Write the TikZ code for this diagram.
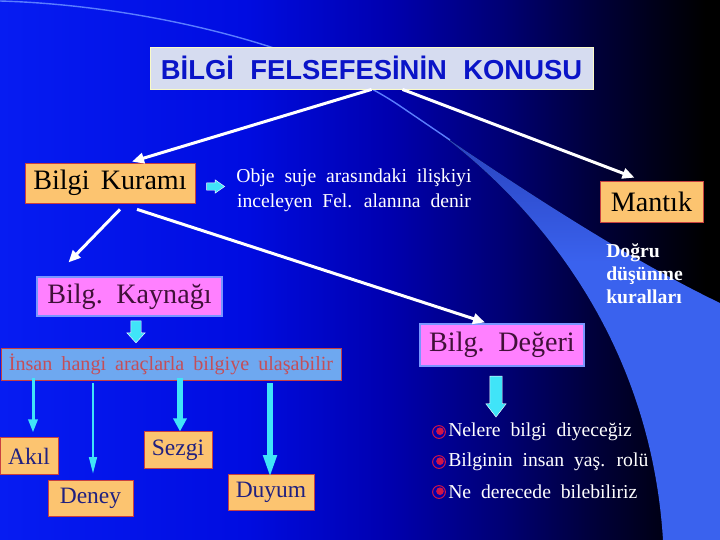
\documentclass[tikz,border=0pt]{standalone}
\usepackage{fontspec}
\setmainfont{Liberation Serif}
\newfontfamily\titlefont{Liberation Sans}
\usepackage{tikz}
\usetikzlibrary{calc,arrows.meta,shapes.arrows}

\definecolor{bgA}{RGB}{6,28,242}
\definecolor{bgB}{RGB}{0,12,225}
\definecolor{bgC}{RGB}{0,0,175}
\definecolor{bgD}{RGB}{0,0,115}
\definecolor{bgE}{RGB}{0,0,60}
\definecolor{bgF}{RGB}{0,0,25}
\definecolor{wedgeblue}{RGB}{58,98,238}
\definecolor{wedgetop}{RGB}{36,58,178}
\definecolor{arcblue}{RGB}{90,125,255}
\definecolor{boxorange}{RGB}{252,196,112}
\definecolor{boxedge}{RGB}{200,64,64}
\definecolor{boxpink}{RGB}{255,128,255}
\definecolor{pinkedge}{RGB}{120,150,255}
\definecolor{boxsky}{RGB}{110,168,240}
\definecolor{skytext}{RGB}{196,78,88}
\definecolor{titlefill}{RGB}{214,220,240}
\definecolor{titleedge}{RGB}{250,250,200}
\definecolor{titleblue}{RGB}{10,20,200}
\definecolor{arrowcyan}{RGB}{64,228,248}
\definecolor{navytext}{RGB}{32,32,128}
\definecolor{plumtext}{RGB}{64,16,56}
\definecolor{globered}{RGB}{210,20,70}

\pgfdeclarehorizontalshading{slidebg}{100bp}{color(0bp)=(bgA); color(25bp)=(bgA); color(42bp)=(bgB); color(52bp)=(bgC); color(60bp)=(bgD); color(66bp)=(bgE); color(70.5bp)=(bgF); color(74bp)=(black); color(100bp)=(black)}
\pgfdeclareverticalshading{wedgefade}{100bp}{color(0bp)=(wedgeblue); color(57bp)=(wedgeblue); color(75bp)=(wedgetop); color(100bp)=(wedgetop)}

\tikzset{
	titlebox/.style={draw=titleedge, fill=titlefill, line width=0.6pt, inner sep=0pt, minimum width=110.75mm, minimum height=10.5mm, text=titleblue, font={\titlefont\bfseries\fontsize{19.5}{22}\selectfont\spaceskip=0.6em\relax}},
	orangebox/.style={draw=boxedge, fill=boxorange, line width=0.5pt, inner sep=0pt},
	bigtext/.style={font={\fontsize{20}{24}\selectfont\spaceskip=0.4em\relax}},
	pinkbox/.style={draw=pinkedge, fill=boxpink, line width=0.8pt, inner sep=0pt, text=plumtext, bigtext},
	skybox/.style={draw=boxedge, fill=boxsky, line width=0.5pt, inner sep=0pt, minimum width=85mm, minimum height=8mm, text=skytext, font={\fontsize{14.3}{17}\selectfont\spaceskip=0.45em\relax}},
	smallbox/.style={orangebox, minimum height=9.1mm, text=navytext, font={\fontsize{16.7}{20}\selectfont}},
	notetext/.style={text=white, inner sep=0pt, font={\fontsize{14}{17.8}\selectfont\spaceskip=0.5em\relax}},
	itemtext/.style={text=white, inner sep=0pt, font={\fontsize{14}{17}\selectfont\spaceskip=0.5em\relax}},
	globe/.style={circle, draw=globered, line width=0.7pt, fill=bgC, inner sep=0pt, minimum size=3.2mm, path picture={\fill[globered] ([xshift=0.25mm,yshift=0.2mm]path picture bounding box.center) circle (0.95mm);}},
	whitearrow/.style={draw=white, line width=0.75mm, -{Triangle[length=3mm,width=2.6mm]}},
	cyanarrow/.style={draw=arrowcyan},
	blockarrow/.style={single arrow, fill=arrowcyan, draw=white, line width=0.3pt}
}

\begin{document}
\begin{tikzpicture}[x=0.25mm,y=-0.25mm]
		%%%%% BACKGROUND %%%%%
		\useasboundingbox (0,0) rectangle (720,540);
		\fill[shading=slidebg] (0,0) rectangle (720,540);
		\fill[shading=wedgefade] (400,106) .. controls (525,185) and (650,330) .. (663,540) -- (720,540) -- (720,303) .. controls (620,255) and (500,175) .. (400,106) -- cycle;
		\draw[arcblue, line width=0.35mm] (0,1) .. controls (140,5) and (310,45) .. (400,106) -- (450,140);
		
		%%%%% BOXES %%%%%
		\node[titlebox] (title) at (371.5,68) {BİLGİ FELSEFESİNİN KONUSU};
		
		\node[orangebox, bigtext, minimum width=42.5mm, minimum height=10mm] (kuram) at (110,183) {Bilgi Kuramı};
		\node[orangebox, bigtext, minimum width=25.75mm, minimum height=10.25mm] (mantik) at (651.5,201.5) {Mantık};
		\node[pinkbox, minimum width=46.25mm, minimum height=9.75mm] (kaynak) at (129.5,296.5) {Bilg. Kaynağı};
		\node[pinkbox, minimum width=41mm, minimum height=10.5mm] (deger) at (502,345) {Bilg. Değeri};
		\node[skybox] (insan) at (171,364) {İnsan hangi araçlarla bilgiye ulaşabilir};
		
		\node[smallbox, minimum width=14.5mm] (akil) at (29,456) {Akıl};
		\node[smallbox, minimum width=21.25mm] (deney) at (90.5,498.5) {Deney};
		\node[smallbox, minimum width=17mm] (sezgi) at (178,450) {Sezgi};
		\node[smallbox, minimum width=21.5mm] (duyum) at (271,492.5) {Duyum};
		
		%%%%% TEXTS %%%%%
		\node[notetext, align=center] (tanim) at (354,190.5) {Obje suje arasındaki ilişkiyi\\inceleyen Fel. alanına denir};
		\node[notetext, font={\bfseries\fontsize{14}{16.4}\selectfont}, align=left, anchor=north west] (kural) at (606,243) {Doğru\\düşünme\\kuralları};
		
		\node[globe] (g1) at (439,432) {};
		\node[itemtext, anchor=west] (m1) at (448,432) {Nelere bilgi diyeceğiz};
		\node[globe] (g2) at (439,462) {};
		\node[itemtext, anchor=west] (m2) at (448,462) {Bilginin insan yaş. rolü};
		\node[globe] (g3) at (439,492) {};
		\node[itemtext, anchor=west] (m3) at (448,492) {Ne derecede bilebiliriz};
		
		%%%%% ARROWS %%%%%
		\draw[whitearrow] (title.south) -- ($(kuram.north)+(22,-1)$);
		\draw[whitearrow] ($(title.south)+(31,0)$) -- ($(mantik.north)+(-17,-3)$);
		\draw[whitearrow] ($(kuram.south)+(10,6)$) -- ($(kaynak.north)+(-61,-14)$);
		\draw[whitearrow] ($(kuram.south)+(27,6)$) -- ($(deger.north)+(-17,-1)$);
		
		\node[blockarrow, inner sep=0.875mm, minimum height=4.5mm, single arrow head extend=0.75mm, single arrow tip angle=70] (ok1) at (213,186.5) {};
		\node[blockarrow, shape border rotate=270, inner sep=1.25mm, minimum height=5.5mm, single arrow head extend=1mm, single arrow tip angle=85] (ok2) at (136,329) {};
		\node[blockarrow, shape border rotate=270, inner sep=1.5mm, minimum height=10.25mm, single arrow head extend=1mm, single arrow tip angle=75] (ok3) at (496,392.5) {};
		
		\draw[cyanarrow, line width=0.75mm, -{Triangle[length=3.3mm,width=2.3mm]}] ($(akil.north |- insan.south)+(4,-2)$) -- ($(akil.north)+(4,-5)$);
		\draw[cyanarrow, line width=0.6mm, -{Triangle[length=4.2mm,width=1.9mm]}] ($(deney.north |- insan.south)+(2.5,3)$) -- ($(deney.north)+(2.5,-6)$);
		\draw[cyanarrow, line width=1.3mm, -{Triangle[length=3.3mm,width=3.3mm]}] ($(sezgi.north |- insan.south)+(2,-2)$) -- ($(sezgi.north)+(2,0)$);
		\draw[cyanarrow, line width=1.6mm, -{Triangle[length=5.7mm,width=3.1mm]}] ($(duyum.north |- insan.south)+(-1,3)$) -- ($(duyum.north)+(-1,4)$);
		
		%%%%% END %%%%%
	\end{tikzpicture}
\end{document}
